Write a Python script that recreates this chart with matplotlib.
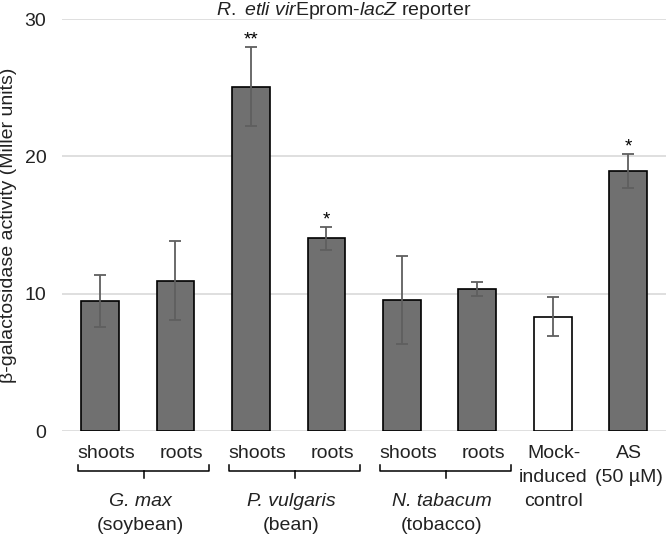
import matplotlib
matplotlib.use("Agg")
import matplotlib.pyplot as plt
from matplotlib.transforms import blended_transform_factory

plt.rcParams['font.family'] = ['Liberation Sans', 'DejaVu Sans']
plt.rcParams['mathtext.fontset'] = 'custom'
plt.rcParams['mathtext.it'] = 'Liberation Sans:italic'
plt.rcParams['mathtext.rm'] = 'Liberation Sans'

# ---- data ----
tissues = ["shoots", "roots", "shoots", "roots", "shoots", "roots"]
controls = ["Mock-\ninduced\ncontrol", "AS\n(50 µM)"]
species = ["G. max", "P. vulgaris", "N. tabacum"]
common_names = ["(soybean)", "(bean)", "(tobacco)"]
means = [9.45, 10.95, 25.08, 14.03, 9.54, 10.34, 8.33, 18.91]
errors = [1.9, 2.85, 2.9, 0.85, 3.2, 0.5, 1.4, 1.25]
significance = ["", "", "**", "*", "", "", "", "*"]
bar_colors = ["#707070"] * 6 + ["#ffffff", "#707070"]
yticks = [0, 10, 20, 30]

W, H = 666, 537
fig = plt.figure(figsize=(W / 100, H / 100), dpi=100)
ax = fig.add_axes([62.3 / W, (H - 431) / H, (666 - 62.3) / W, (431 - 19) / H])

x = list(range(len(means)))
ax.bar(x, means, width=0.5, color=bar_colors, edgecolor="black", linewidth=1.2, zorder=3)
ax.errorbar(x, means, yerr=errors, fmt="none", ecolor="#5f5f5f", elinewidth=1.3,
            capsize=4.2, capthick=1.3, zorder=4)

for xi, m, e, s in zip(x, means, errors, significance):
    if s:
        ax.annotate(s, (xi, m + e), xytext=(0, -1), textcoords="offset points",
                    ha="center", va="bottom", fontsize=13.5)

ax.set_xlim(-0.5, 7.5)
ax.set_ylim(0, 30)
ax.set_yticks(yticks)
ax.set_yticklabels([str(t) for t in yticks], fontsize=14, color="#222222")
ax.tick_params(axis="y", length=0, pad=11.5)
ax.set_xticks([])
ax.grid(axis="y", color="#d9d9d9", linewidth=1.2, zorder=0)
ax.set_axisbelow(True)
for sp in ax.spines.values():
    sp.set_visible(False)

tr = blended_transform_factory(ax.transData, fig.transFigure)
def fy(px):
    return 1 - px / H

# tissue labels
for i, t in enumerate(tissues):
    ax.text(i + 0.08, fy(454), t, transform=tr, ha="center", va="center", fontsize=14, color="#222222")
# control labels
for j, c in enumerate(controls):
    for k, line in enumerate(c.split("\n")):
        ax.text(6 + j + 0.01, fy(454 + 24 * k), line, transform=tr, ha="center", va="center",
                fontsize=14, color="#222222")

# braces and species labels
for g in range(3):
    xc = 2 * g + 0.5 + 0.08
    x0, x1 = xc - 0.87, xc + 0.87
    ax.plot([x0, x0, x1, x1], [fy(465), fy(471), fy(471), fy(465)], transform=tr,
            color="black", lw=1.1, clip_on=False, solid_joinstyle="round")
    ax.plot([xc, xc], [fy(471), fy(478)], transform=tr, color="black", lw=1.1, clip_on=False)
    ax.text(2 * g + 0.5 + 0.03, fy(502), species[g], transform=tr, ha="center", va="center",
            fontsize=14, style="italic", color="#222222")
    ax.text(2 * g + 0.5 + 0.03, fy(526), common_names[g], transform=tr, ha="center", va="center",
            fontsize=14, color="#222222")

fig.text(9 / W, fy(225), "β-galactosidase activity (Miller units)", rotation=90,
         ha="center", va="center", fontsize=14, color="#222222")
fig.text(343.5 / W, fy(10.5),
         r"$\mathit{R.}$ $\mathit{etli}$ $\mathit{vir}$Eprom-$\mathit{lacZ}$ reporter",
         ha="center", va="center", fontsize=14, color="#222222")

fig.savefig("out.png", dpi=100)
